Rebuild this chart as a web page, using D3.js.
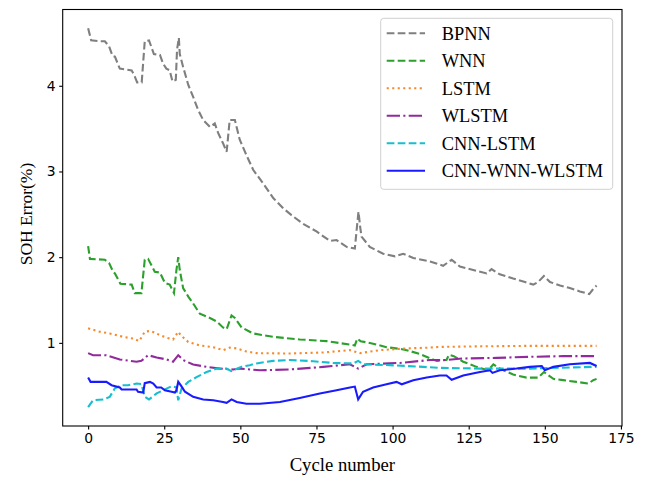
<!DOCTYPE html>
<html>
<head>
<meta charset="utf-8">
<script src="https://cdn.jsdelivr.net/npm/d3@7"></script>
<style>
  body { margin: 0; background: #fff; }
  .tick text { font-family: "DejaVu Sans", sans-serif; font-size: 13.9px; fill: #000; }
  .tick line { stroke: #000; stroke-width: 1.1px; }
  .domain { display: none; }
</style>
</head>
<body>
<div id="chart"></div>
<script>
// values: cycle number -> SOH error (%)
var bpnnCycles = [0, 1, 3.8, 5.5, 6.9, 8, 8.8, 10.4, 14.3, 15.3, 16.1, 17.6, 18.6, 20, 21.6, 23.6, 24.6, 25.7, 26.8, 27.7, 28.8, 29.2, 29.8, 30.1, 31.2, 32.9, 34.5, 36.1, 37.8, 40, 41.6, 42.7, 44.3, 45.5, 46.5, 48.2, 49.8, 52, 54.2, 57.5, 60.8, 64.1, 66.8, 70.6, 75, 79.4, 81.6, 84.9, 87.6, 88.2, 88.8, 89.4, 89.8, 92.5, 96.9, 100.8, 103.5, 106.8, 112.3, 116.6, 119.4, 122.1, 127.6, 130.9, 132.5, 135.2, 139.6, 143.5, 146.2, 147.8, 149.7, 151.7, 155, 158.2, 161.5, 164.6, 165.7, 167];
var bpnnValues = [4.67, 4.53, 4.52, 4.52, 4.46, 4.35, 4.34, 4.20, 4.18, 4.11, 4.04, 4.04, 4.52, 4.53, 4.37, 4.36, 4.26, 4.20, 4.18, 4.05, 4.07, 4.42, 4.56, 4.37, 4.22, 4.01, 3.87, 3.72, 3.60, 3.52, 3.56, 3.45, 3.33, 3.23, 3.60, 3.60, 3.37, 3.19, 3.02, 2.86, 2.69, 2.57, 2.49, 2.39, 2.30, 2.19, 2.20, 2.12, 2.10, 2.32, 2.53, 2.34, 2.24, 2.12, 2.04, 2.01, 2.04, 1.99, 1.95, 1.90, 1.97, 1.89, 1.84, 1.81, 1.86, 1.80, 1.75, 1.71, 1.68, 1.71, 1.78, 1.71, 1.67, 1.64, 1.60, 1.57, 1.62, 1.67];

var wnnCycles = [0, 0.6, 5.5, 6.9, 8.2, 8.8, 10.6, 14.3, 15.3, 17.5, 18.6, 19.7, 21.9, 23.6, 25.2, 26.8, 28.2, 29, 29.6, 30.1, 31.2, 32.9, 34.3, 36.7, 40, 42.2, 44.3, 45.5, 47.1, 48.2, 50.4, 53.1, 54.2, 60.8, 69.5, 78.3, 86, 87.6, 88.4, 89.5, 93.6, 98, 102.4, 104.6, 109, 112.3, 114.5, 117.7, 118.5, 120.1, 123.2, 127.6, 131.4, 133.1, 135.2, 139.6, 144, 147.8, 149.7, 152.8, 156, 160.4, 164.3, 165.9, 167];
var wnnValues = [2.13, 1.98, 1.97, 1.93, 1.83, 1.81, 1.69, 1.68, 1.58, 1.58, 1.97, 1.98, 1.83, 1.82, 1.70, 1.68, 1.58, 1.85, 2.00, 1.85, 1.64, 1.54, 1.47, 1.34, 1.29, 1.25, 1.18, 1.16, 1.32, 1.29, 1.18, 1.13, 1.11, 1.07, 1.04, 1.02, 0.98, 0.97, 1.05, 1.02, 0.99, 0.95, 0.93, 0.915, 0.87, 0.82, 0.79, 0.80, 0.86, 0.845, 0.78, 0.72, 0.68, 0.75, 0.70, 0.63, 0.595, 0.595, 0.66, 0.58, 0.565, 0.545, 0.525, 0.565, 0.58];

var lstmCycles = [0, 3.8, 7.1, 11.5, 14.8, 16.8, 18.6, 20.5, 23.6, 25.8, 27.9, 29.6, 30.4, 32.9, 36.7, 41.1, 44.3, 46.5, 48.8, 52, 55.3, 66.3, 77.2, 86, 89.3, 95.8, 104.6, 112.3, 115.5, 130, 145, 160, 167];
var lstmValues = [1.17, 1.13, 1.11, 1.07, 1.05, 1.02, 1.13, 1.14, 1.09, 1.06, 1.04, 1.13, 1.09, 1.01, 0.97, 0.95, 0.915, 0.945, 0.935, 0.90, 0.88, 0.876, 0.888, 0.915, 0.88, 0.915, 0.935, 0.945, 0.953, 0.96, 0.965, 0.965, 0.965];

var wlstmCycles = [0, 1.6, 6, 10.4, 15.9, 17.5, 19.7, 22.5, 25.8, 27.9, 29.6, 31.2, 34.5, 38.9, 43.3, 47.6, 49.8, 56.4, 66.3, 77.2, 86, 88.7, 91.5, 102.4, 112.3, 117.7, 123.2, 134.2, 145.1, 156, 165.9, 167];
var wlstmValues = [0.88, 0.856, 0.856, 0.806, 0.78, 0.79, 0.856, 0.83, 0.806, 0.78, 0.856, 0.80, 0.747, 0.72, 0.70, 0.69, 0.70, 0.68, 0.69, 0.72, 0.75, 0.70, 0.75, 0.766, 0.80, 0.80, 0.818, 0.825, 0.837, 0.845, 0.845, 0.84];

var cnnLstmCycles = [0, 1.6, 4.9, 7.1, 8.8, 11, 13.1, 15.9, 17.5, 18.6, 20, 22.5, 24.6, 27.4, 29, 29.6, 30.7, 32.9, 35.6, 38.9, 42.2, 45.5, 47, 50.4, 53.1, 55.3, 60.8, 66.3, 73.9, 80.5, 87.1, 88.7, 90.3, 99.1, 110, 115.5, 128.7, 145, 165.9, 167];
var cnnLstmValues = [0.25, 0.33, 0.34, 0.37, 0.47, 0.506, 0.506, 0.525, 0.52, 0.37, 0.34, 0.41, 0.447, 0.494, 0.48, 0.33, 0.467, 0.544, 0.60, 0.66, 0.70, 0.70, 0.67, 0.72, 0.74, 0.76, 0.79, 0.80, 0.786, 0.766, 0.76, 0.79, 0.75, 0.74, 0.72, 0.708, 0.70, 0.70, 0.72, 0.72];

var oursCycles = [0, 0.8, 6, 7.7, 10.4, 11, 15.9, 16.4, 18.1, 18.6, 20.3, 21.4, 22.5, 24, 25.2, 27.4, 28.5, 29, 29.6, 30.4, 31.8, 34.5, 37.8, 41.1, 44.3, 45.5, 47.1, 48.8, 52, 56.4, 63, 69.5, 76.1, 81.6, 86, 87.6, 88.7, 90.3, 93.6, 98, 101.3, 103, 106.8, 111.2, 115.5, 117.7, 119.4, 123.2, 128.7, 132, 132.8, 135.2, 140.7, 145.1, 149, 150, 152.8, 158.2, 164.8, 167];
var oursValues = [0.596, 0.545, 0.545, 0.506, 0.48, 0.456, 0.456, 0.43, 0.42, 0.53, 0.545, 0.525, 0.48, 0.48, 0.447, 0.43, 0.42, 0.447, 0.545, 0.506, 0.43, 0.37, 0.34, 0.33, 0.31, 0.30, 0.34, 0.31, 0.29, 0.29, 0.31, 0.357, 0.41, 0.447, 0.48, 0.49, 0.34, 0.43, 0.48, 0.517, 0.545, 0.517, 0.564, 0.596, 0.62, 0.62, 0.57, 0.62, 0.66, 0.68, 0.65, 0.68, 0.70, 0.72, 0.73, 0.68, 0.72, 0.75, 0.766, 0.73];

var seriesNames = ["BPNN", "WNN", "LSTM", "WLSTM", "CNN-LSTM", "CNN-WNN-WLSTM"];
var xTicks = [0, 25, 50, 75, 100, 125, 150, 175];
var yTicks = [1, 2, 3, 4];

var width = 646, height = 478;
var plot = {left: 62.7, right: 622, top: 9.5, bottom: 426};

var series = [
    {name: seriesNames[0], cycles: bpnnCycles, values: bpnnValues, color: "#7f7f7f", dash: "7.7,3.3"},
    {name: seriesNames[1], cycles: wnnCycles, values: wnnValues, color: "#2ca02c", dash: "7.7,3.3"},
    {name: seriesNames[2], cycles: lstmCycles, values: lstmValues, color: "#f58a2c", dash: "2.1,3.4"},
    {name: seriesNames[3], cycles: wlstmCycles, values: wlstmValues, color: "#912a9c", dash: "13.3,3.3,2.1,3.3"},
    {name: seriesNames[4], cycles: cnnLstmCycles, values: cnnLstmValues, color: "#17becf", dash: "7.7,3.3"},
    {name: seriesNames[5], cycles: oursCycles, values: oursValues, color: "#1a1aff", dash: null}
];

var svg = d3.select("#chart").append("svg")
    .attr("width", width)
    .attr("height", height);

var x = d3.scaleLinear().domain([-8.35, 175.35]).range([plot.left, plot.right]);
var y = d3.scaleLinear().domain([0.03, 4.89]).range([plot.bottom, plot.top]);

svg.append("g")
    .attr("transform", "translate(0," + plot.bottom + ")")
    .call(d3.axisBottom(x).tickValues(xTicks).tickFormat(d3.format("d")).tickSize(3.5).tickPadding(3.5));

svg.append("g")
    .attr("transform", "translate(" + plot.left + ",0)")
    .call(d3.axisLeft(y).tickValues(yTicks).tickFormat(d3.format("d")).tickSize(3.5).tickPadding(3.5));

var line = d3.line()
    .x(function(d) { return x(d[0]); })
    .y(function(d) { return y(d[1]); });

series.forEach(function(s) {
    var pts = s.cycles.map(function(c, i) { return [c, s.values[i]]; });
    svg.append("path")
        .datum(pts)
        .attr("fill", "none")
        .attr("stroke", s.color)
        .attr("stroke-width", 2.1)
        .attr("stroke-dasharray", s.dash)
        .attr("d", line);
});

// frame
svg.append("rect")
    .attr("x", plot.left)
    .attr("y", plot.top)
    .attr("width", plot.right - plot.left)
    .attr("height", plot.bottom - plot.top)
    .attr("fill", "none")
    .attr("stroke", "#000")
    .attr("stroke-width", 1.1);

// axis labels
svg.append("text")
    .attr("x", (plot.left + plot.right) / 2)
    .attr("y", 471)
    .attr("text-anchor", "middle")
    .style("font-family", "'Liberation Serif', 'Times New Roman', serif")
    .style("font-size", "18.7px")
    .text("Cycle number");

svg.append("text")
    .attr("transform", "translate(32,214) rotate(-90)")
    .attr("text-anchor", "middle")
    .style("font-family", "'Liberation Serif', 'Times New Roman', serif")
    .style("font-size", "17.5px")
    .text("SOH Error(%)");

// legend
var legend = svg.append("g");
legend.append("rect")
    .attr("x", 380.7)
    .attr("y", 18.3)
    .attr("width", 232)
    .attr("height", 171)
    .attr("rx", 3)
    .attr("fill", "#fff")
    .attr("fill-opacity", 0.8)
    .attr("stroke", "#d0d0d0")
    .attr("stroke-width", 1);

var rows = legend.selectAll(".row")
    .data(series)
    .enter().append("g")
    .attr("class", "row")
    .attr("transform", function(d, i) { return "translate(0," + (33.3 + i * 27.5) + ")"; });

rows.append("line")
    .attr("x1", 386.7).attr("x2", 425)
    .attr("y1", 0).attr("y2", 0)
    .attr("stroke", function(d) { return d.color; })
    .attr("stroke-width", 2.1)
    .attr("stroke-dasharray", function(d) { return d.dash; });

rows.append("text")
    .attr("x", 441.7)
    .attr("y", 6.3)
    .style("font-family", "'Liberation Serif', 'Times New Roman', serif")
    .style("font-size", "18.4px")
    .style("fill", "#000")
    .text(function(d) { return d.name; });
</script>
</body>
</html>
